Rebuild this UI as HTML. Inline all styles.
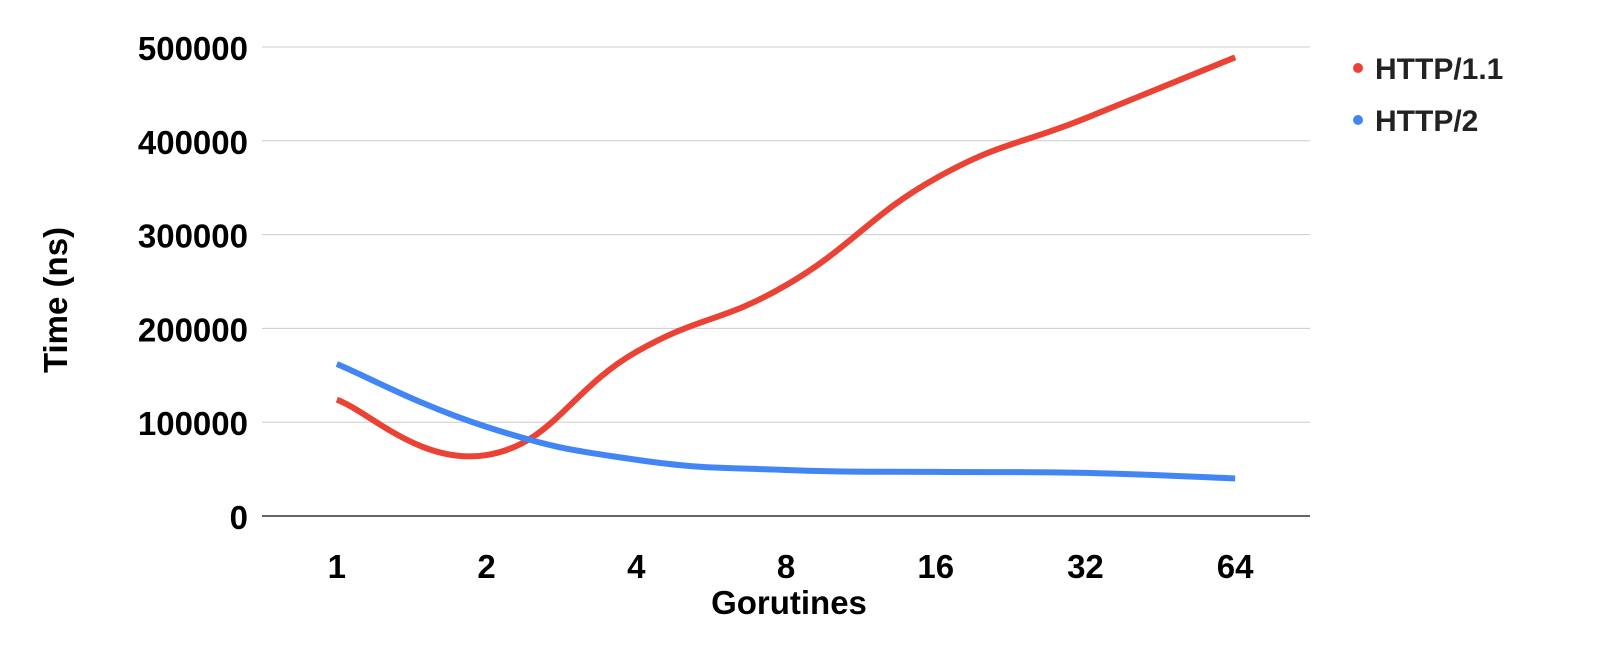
<!DOCTYPE html>
<html><head><meta charset="utf-8"><style>
body{margin:0;background:#fff;}
svg{display:block;font-family:"Liberation Sans",Arial,sans-serif;font-weight:bold;}
</style></head><body>
<svg id="chart" width="1600" height="647" viewBox="0 0 1600 647">
<g id="grid"></g>
<g id="yticks"></g>
<g id="xticks"></g>
<g id="series"></g>
<text x="67" y="300" transform="rotate(-90 67 300)" text-anchor="middle" font-size="33" fill="#000">Time (ns)</text>
<text x="789" y="614" text-anchor="middle" font-size="33" fill="#000">Gorutines</text>
<g>
<circle cx="1358" cy="68" r="5" fill="#ea4335"/>
<text x="1375" y="79" font-size="30" fill="#222">HTTP/1.1</text></g>
<g>
<circle cx="1358" cy="120" r="5" fill="#4285f4"/>
<text x="1375" y="131" font-size="30" fill="#222">HTTP/2</text></g>
</svg>
<script>
const categories=["1","2","4","8","16","32","64"];
const http11=[124000,65000,175000,246000,360000,424000,489000];
const http2=[162000,95000,60000,49000,47000,46000,40000];
const yTicks=[0,100000,200000,300000,400000,500000];
const NS="http://www.w3.org/2000/svg";
const x0=262,x1=1310,yBase=516,yTop=47,yMax=500000;
const step=(x1-x0)/categories.length;
const xs=i=>x0+step*(i+0.5);
const ys=v=>yBase-(v/yMax)*(yBase-yTop);
function mk(t,a,p){const e=document.createElementNS(NS,t);for(const k in a)e.setAttribute(k,a[k]);p.appendChild(e);return e;}
const grid=document.getElementById('grid'),yt=document.getElementById('yticks'),xt=document.getElementById('xticks'),ser=document.getElementById('series');
yTicks.forEach(v=>{
 const l=mk('line',{x1:x0,x2:x1,y1:ys(v),y2:ys(v),stroke:v===0?'#333':'#ccc','stroke-width':v===0?1.5:1},grid);
 
 
 const t=mk('text',{x:248,y:ys(v)+13,'text-anchor':'end','font-size':33,fill:'#000'},yt);
 t.textContent=v;
 
 
});
categories.forEach((c,i)=>{
 const t=mk('text',{x:xs(i),y:578,'text-anchor':'middle','font-size':33,fill:'#000'},xt);
 t.textContent=c;
 
 
});
function path(vals){
 const p=vals.map((v,i)=>[xs(i),ys(v)]);
 let d='M'+p[0][0]+','+p[0][1];
 const t=0.22;
 for(let i=0;i<p.length-1;i++){
  const a=p[i-1]||p[i],b=p[i],c=p[i+1],e=p[i+2]||c;
  d+=' C'+(b[0]+(c[0]-a[0])*t)+','+(b[1]+(c[1]-a[1])*t)+' '+(c[0]-(e[0]-b[0])*t)+','+(c[1]-(e[1]-b[1])*t)+' '+c[0]+','+c[1];
 }
 return d;
}
const p1=mk('path',{d:path(http11),fill:'none',stroke:'#ea4335','stroke-width':6},ser);


const p2=mk('path',{d:path(http2),fill:'none',stroke:'#4285f4','stroke-width':6},ser);


</script>
</body></html>
